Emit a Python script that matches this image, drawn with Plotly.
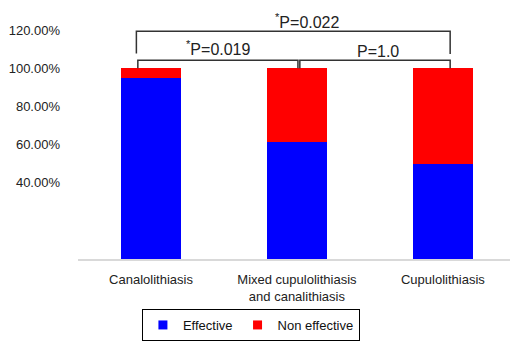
import plotly.graph_objects as go

categories = ["Canalolithiasis", "Mixed cupulolithiasis<br>and canalithiasis", "Cupulolithiasis"]
effective = [0.95, 0.615, 0.50]
non_effective = [0.05, 0.385, 0.50]
tick_vals = [0.4, 0.6, 0.8, 1.0, 1.2]
tick_text = ["40.00%", "60.00%", "80.00%", "100.00%", "120.00%"]
comparisons = [
    # (left category index, right index, label)
    (0, 1, "<sup>*</sup>P=0.019"),
    (1, 2, "P=1.0"),
    (0, 2, "<sup>*</sup>P=0.022"),
]

FONT = "Liberation Sans, Arial, Helvetica, sans-serif"
xs = list(range(len(categories)))

fig = go.Figure()
fig.add_trace(go.Bar(x=xs, y=effective, name="Effective", marker_color="#0000FF",
                     marker_line_width=0, width=0.41, showlegend=False))
fig.add_trace(go.Bar(x=xs, y=non_effective, name="Non effective", marker_color="#FF0000",
                     marker_line_width=0, width=0.41, showlegend=False))
# legend entries (square swatches)
fig.add_trace(go.Scatter(x=[None], y=[None], mode="markers", name="Effective",
                         marker=dict(symbol="square", size=9, color="#0000FF")))
fig.add_trace(go.Scatter(x=[None], y=[None], mode="markers", name="Non effective",
                         marker=dict(symbol="square", size=9, color="#FF0000")))

line = dict(color="#333333", width=1.5)
shapes = []
annotations = []
(l0, r0, t0) = comparisons[0]
(l1, r1, t1) = comparisons[1]
(l2, r2, t2) = comparisons[2]
ys = 1.042
shapes.append(dict(type="path", xref="x", yref="y",
                   path=f"M {l0-0.09},1.0 L {l0-0.09},{ys} L {r0+0.007},{ys} L {r0+0.007},1.0",
                   line=line))
shapes.append(dict(type="path", xref="x", yref="y",
                   path=f"M {l1+0.02},1.0 L {l1+0.02},{ys} L {r1+0.05},{ys} L {r1+0.05},1.0",
                   line=line))
yb = 1.194
shapes.append(dict(type="path", xref="x", yref="y",
                   path=f"M {l2-0.10},1.077 L {l2-0.10},{yb} L {r2+0.05},{yb} L {r2+0.05},1.075",
                   line=line))
annotations.append(dict(x=0.466, y=1.105, xref="x", yref="y", text=t0, showarrow=False,
                        font=dict(size=16, color="#222222", family=FONT)))
annotations.append(dict(x=1.555, y=1.09, xref="x", yref="y", text=t1, showarrow=False,
                        font=dict(size=16, color="#222222", family=FONT)))
annotations.append(dict(x=1.075, y=1.25, xref="x", yref="y", text=t2, showarrow=False,
                        font=dict(size=16, color="#222222", family=FONT)))

fig.update_layout(
    width=510, height=341,
    margin=dict(l=78, r=0, t=11, b=82),
    barmode="stack",
    paper_bgcolor="white", plot_bgcolor="white",
    font=dict(family=FONT, size=13, color="#222222"),
    shapes=shapes, annotations=annotations,
    showlegend=True,
    legend=dict(orientation="h", xref="container", yref="container",
                x=0.492, xanchor="center", y=0.0, yanchor="bottom",
                traceorder="normal", itemwidth=30,
                bordercolor="#000000", borderwidth=1,
                font=dict(size=13, color="#111111", family=FONT)),
    xaxis=dict(range=[-0.5, 2.46], tickvals=xs, ticktext=categories,
               showline=True, linecolor="#d9d9d9", linewidth=1.5,
               showgrid=False, zeroline=False, ticks="", ticklabelstandoff=8),
    yaxis=dict(range=[0, 1.3], tickvals=tick_vals, ticktext=tick_text,
               showline=False, showgrid=False, zeroline=False, ticks="",
               ticklabelstandoff=17),
)

fig.write_html("out.html")
